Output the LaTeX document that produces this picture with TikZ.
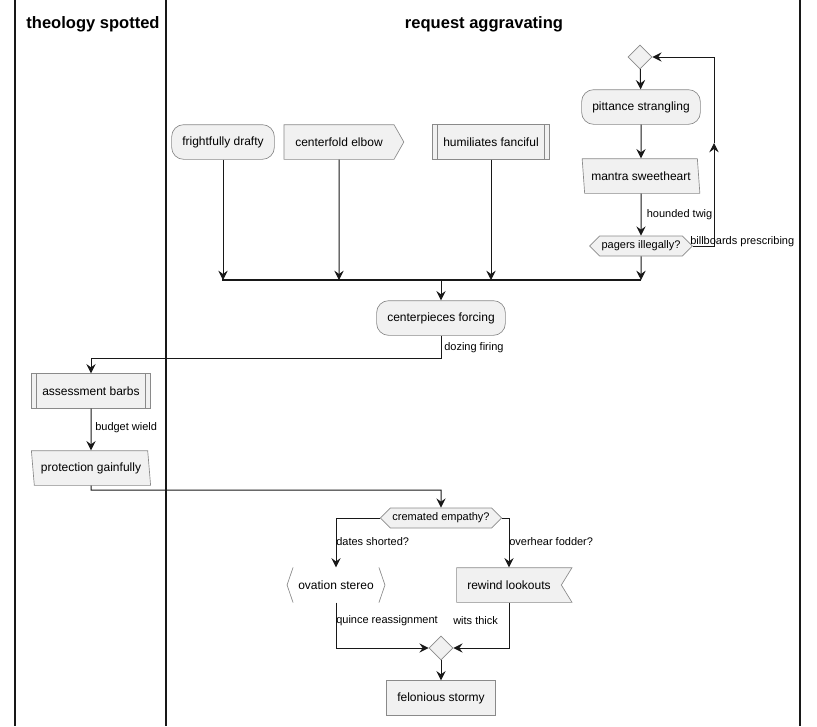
\documentclass[tikz,border=0pt]{standalone}
\usepackage{fontspec}
\setmainfont{Liberation Sans}
\usetikzlibrary{arrows.meta,shapes.geometric,shapes.symbols}
\definecolor{actfill}{HTML}{F1F1F1}
\definecolor{actline}{HTML}{181818}
\definecolor{actedge}{HTML}{8A8A8A}
\tikzset{
  act/.style={draw=actedge, fill=actfill, line width=0.5pt, font=\fontsize{9}{11}\selectfont,
    inner xsep=8pt, inner ysep=2pt, minimum height=26pt},
  rnd/.style={act, rectangle, rounded corners=9pt},
  plain/.style={act, rectangle},
  para/.style={act, trapezium, trapezium left angle=100, trapezium right angle=80,
    trapezium stretches=true, inner xsep=5pt},
  hex/.style={act, signal, signal to=east and west, signal pointer angle=90,
    font=\fontsize{8.25}{10}\selectfont, minimum height=15pt, inner xsep=1.5pt, inner ysep=1pt},
  dia/.style={act, diamond, minimum size=18pt, inner sep=0pt},
  lbl/.style={font=\fontsize{8.25}{10}\selectfont, inner sep=0pt, anchor=west},
  lane/.style={draw=actline, line width=1.2pt},
  flow/.style={draw=actline, line width=0.75pt, -{Stealth[length=7pt,width=7pt,inset=2.5pt]}},
}
\begin{document}
\begin{tikzpicture}[x=0.75pt,y=-0.75pt]
		\useasboundingbox (0,0) rectangle (817,726);
		% swimlanes
		\draw[lane] (15,0)--(15,726);
		\draw[lane] (166,0)--(166,726);
		\draw[lane] (800,0)--(800,726);
		\node[font=\bfseries\fontsize{12.4}{15}\selectfont] (lane1) at (93,24) {theology spotted};
		\node[font=\bfseries\fontsize{12.4}{15}\selectfont] (lane2) at (484,24) {request aggravating};
		% loop
		\node[dia] (loop) at (640,57) {};
		\node[rnd] (pit) at (641,107) {pittance strangling};
		\node[para] (mantra) at (641,176) {mantra sweetheart};
		\node[hex] (pagers) at (641,246) {pagers illegally?};
		\coordinate (back) at (714,143);
		% split
		\node[rnd] (fright) at (223,142) {frightfully drafty};
		\node[act, signal, signal to=east, signal pointer angle=121, inner xsep=8.5pt] (elbow) at (339,142) {centerfold elbow};
		\node[plain] (humil) at (491,142) {humiliates fanciful};
		\draw[actedge, line width=0.5pt] ([xshift=3.75pt]humil.north west)--([xshift=3.75pt]humil.south west);
		\draw[actedge, line width=0.5pt] ([xshift=-3.75pt]humil.north east)--([xshift=-3.75pt]humil.south east);
		\coordinate (barL) at (222,280);
		\coordinate (barR) at (641,280);
		\coordinate (bar) at (441,280);
		\node[rnd] (pieces) at (441,318) {centerpieces forcing};
		\coordinate (turn1) at (441,358);
		% other lane
		\node[plain] (assess) at (91,391) {assessment barbs};
		\draw[actedge, line width=0.5pt] ([xshift=3.75pt]assess.north west)--([xshift=3.75pt]assess.south west);
		\draw[actedge, line width=0.5pt] ([xshift=-3.75pt]assess.north east)--([xshift=-3.75pt]assess.south east);
		\node[para] (protect) at (91,468) {protection gainfully};
		\coordinate (turn2) at (91,490);
		% if
		\node[hex] (cremated) at (441,518) {cremated empathy?};
		\node[font=\fontsize{9}{11}\selectfont, minimum width=73pt, minimum height=26pt, inner sep=0pt] (ovation) at (336,585) {ovation stereo};
		\draw[actedge, line width=0.5pt] ([xshift=4.5pt]ovation.north west)--(ovation.west)--([xshift=4.5pt]ovation.south west);
		\draw[actedge, line width=0.5pt] ([xshift=-4.5pt]ovation.north east)--(ovation.east)--([xshift=-4.5pt]ovation.south east);
		\node[act, signal, signal to=nowhere, signal from=east, signal pointer angle=117, inner xsep=8pt] (rewind) at (509,585) {rewind lookouts};
		\node[dia] (merge) at (441,648) {};
		\node[plain] (felon) at (441,698) {felonious stormy};
		% connectors
		\draw[flow] (loop)--(pit);
		\draw[flow] (pit)--(mantra);
		\draw[flow] (mantra)--(pagers) node[lbl, pos=0.5, xshift=4pt] {hounded twig};
		\draw[flow] (pagers.east)-|(back);
		\draw[flow] (back)|-(loop.east);
		\node[lbl] (billboards) at (690,242) {billboards prescribing};
		\draw[actline, line width=0.9pt] (barL)--(barR);
		\draw[flow] (fright)--(fright |- bar);
		\draw[flow] (elbow)--(elbow |- bar);
		\draw[flow] (humil)--(humil |- bar);
		\draw[flow] (pagers)--(pagers |- bar);
		\draw[flow] (bar)--(pieces);
		\draw[flow] (pieces)--(turn1)-|(assess);
		\node[lbl] (dozing) at (444,348) {dozing firing};
		\draw[flow] (assess)--(protect);
		\node[lbl] (budget) at (95,428) {budget wield};
		\draw[flow] (protect)--(turn2)-|(cremated);
		\draw[flow] (cremated.west)-|(ovation);
		\node[lbl] (dates) at (336,542) {dates shorted?};
		\draw[flow] (cremated.east)-|(rewind);
		\node[lbl] (overhear) at (509,542) {overhear fodder?};
		\draw[flow] (ovation)|-(merge);
		\node[lbl] (quince) at (336,621) {quince reassignment};
		\draw[flow] (rewind)|-(merge);
		\node[lbl] (wits) at (453,621) {wits thick};
		\draw[flow] (merge)--(felon);
		\end{tikzpicture}
\end{document}
